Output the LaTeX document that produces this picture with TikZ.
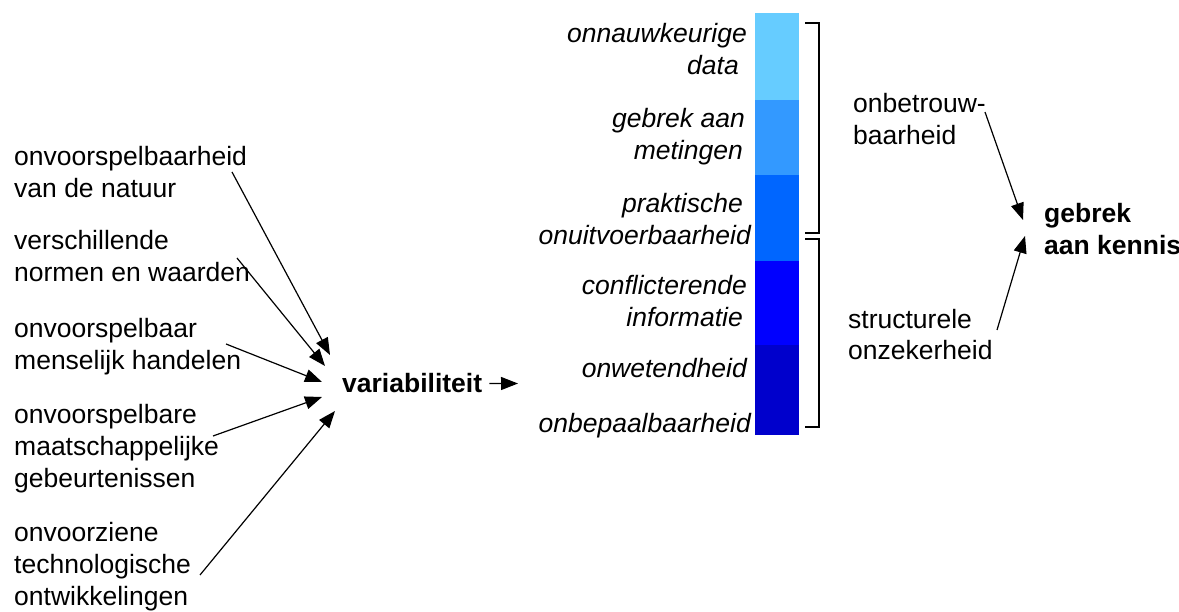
\documentclass[tikz,border=0pt]{standalone}
\usepackage{fontspec}
\setmainfont{Liberation Sans}
\usetikzlibrary{arrows.meta}
\definecolor{cA}{HTML}{66CCFF}
\definecolor{cB}{HTML}{3399FF}
\definecolor{cC}{HTML}{0066FF}
\definecolor{cD}{HTML}{0000FF}
\definecolor{cE}{HTML}{0000CC}
\newcommand{\tsp}[1]{\rule{#1pt}{0pt}}
\begin{document}
\begin{tikzpicture}[x=1pt,y=-1pt,
  lbl/.style={font=\fontsize{26.5}{32}\selectfont, inner sep=0pt, anchor=base west, align=left},
  ilbl/.style={font=\fontsize{26.5}{32}\selectfont\itshape, inner sep=0pt, anchor=base east, align=right},
  blbl/.style={font=\fontsize{26.5}{32}\selectfont\bfseries, inner sep=0pt, anchor=base west, align=left},
  arr/.style={line width=1.2pt, -{Triangle[length=17pt,width=13pt]}},
  brk/.style={line width=1.4pt}]
\useasboundingbox (0,0) rectangle (1179,612);

% left labels (anchor = baseline of last line)
\node[lbl] (n1) at (14,198) {onvoorspelbaarheid\\van de natuur};
\node[lbl] (n2) at (14,282) {verschillende\\normen en waarden};
\node[lbl] (n3) at (14,370) {onvoorspelbaar\\menselijk handelen};
\node[lbl] (n4) at (14,487) {onvoorspelbare\\maatschappelijke\\gebeurtenissen};
\node[lbl] (n5) at (14,605) {onvoorziene\\technologische\\ontwikkelingen};

\node[blbl] (var) at (342,393) {variabiliteit};

% arrow endpoints
\coordinate (a1s) at (232,172); \coordinate (v1) at (330,355);
\coordinate (a2s) at (237,258); \coordinate (v2) at (325,366);
\coordinate (a3s) at (226,344); \coordinate (v3) at (322,382);
\coordinate (a4s) at (213,436); \coordinate (v4) at (322,397);
\coordinate (a5s) at (200,575); \coordinate (v5) at (335,411);
\coordinate (bar) at (518,383.5);

\draw[arr] (a1s) -- (v1);
\draw[arr] (a2s) -- (v2);
\draw[arr] (a3s) -- (v3);
\draw[arr] (a4s) -- (v4);
\draw[arr] (a5s) -- (v5);
\draw[arr] ([xshift=7pt]var.east) -- (bar);

% colour bar
\fill[cA] (755,13) rectangle (799,100);
\fill[cB] (755,100) rectangle (799,175);
\fill[cC] (755,175) rectangle (799,261);
\fill[cD] (755,261) rectangle (799,345);
\fill[cE] (755,345) rectangle (799,435);

% bar labels
\node[ilbl] (t1) at (751,75) {onnauwkeurige\tsp{4}\\data\tsp{12}};
\node[ilbl] (t2) at (751,160) {gebrek aan\tsp{6}\\metingen\tsp{8}};
\node[ilbl] (t3) at (751,245) {praktische\tsp{8}\\onuitvoerbaarheid};
\node[ilbl] (t4) at (751,327) {conflicterende\tsp{4}\\informatie\tsp{8}};
\node[ilbl] (t5) at (751,378) {onwetendheid\tsp{4}};
\node[ilbl] (t6) at (751,432) {onbepaalbaarheid};

% brackets
\draw[brk] (805,23) -- (819,23) -- (819,233) -- (805,233);
\draw[brk] (805,239) -- (819,239) -- (819,427) -- (805,427);

% right labels
\node[lbl] (onb) at (853,145) {onbetrouw-\\baarheid};
\node[lbl] (str) at (848,360) {structurele\\onzekerheid};
\node[blbl] (geb) at (1044,255) {gebrek\\aan kennis};

\coordinate (r1s) at (985,112); \coordinate (g1) at (1023,220);
\coordinate (r2s) at (997,330); \coordinate (g2) at (1025,236);
\draw[arr] (r1s) -- (g1);
\draw[arr] (r2s) -- (g2);
\end{tikzpicture}
\end{document}
